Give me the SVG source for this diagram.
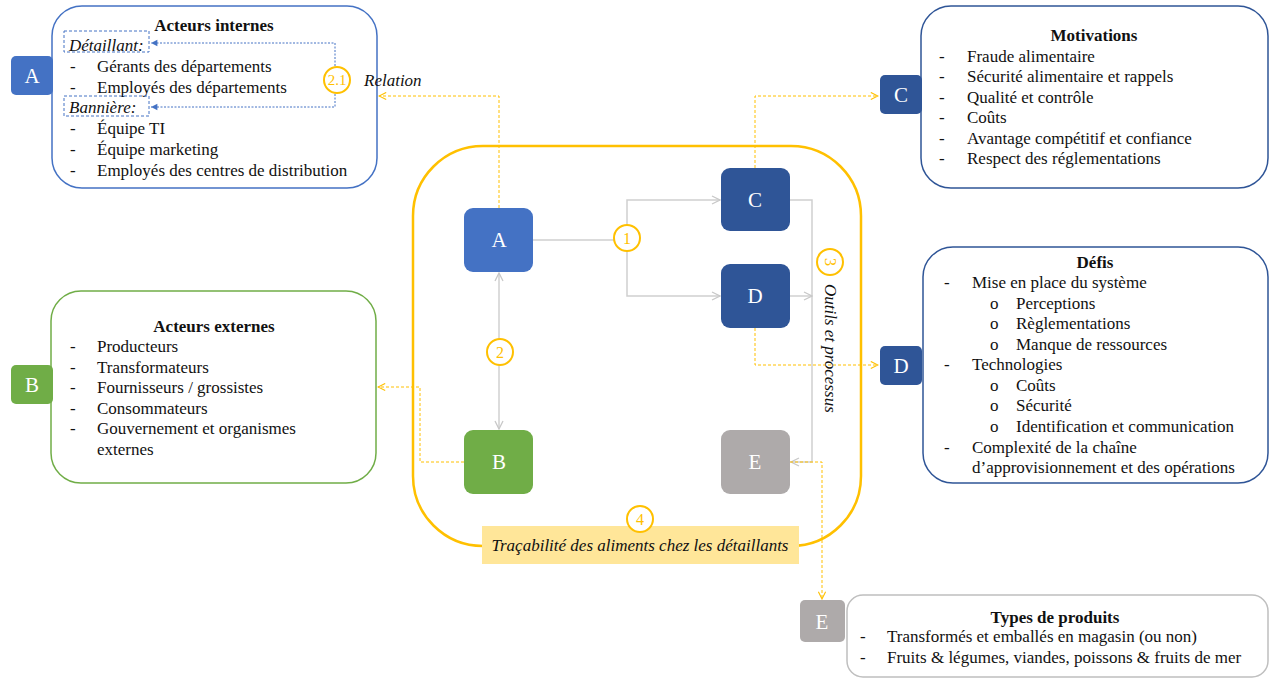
<svg xmlns="http://www.w3.org/2000/svg" width="1274" height="679" viewBox="0 0 1274 679">
<style>
text{font-family:"Liberation Serif","Times New Roman",serif;fill:#111;}
.t{font-size:17px;}
.b{font-size:17px;font-weight:bold;text-anchor:middle;}
.i{font-style:italic;}
.lt{font-size:21px;fill:#fff;text-anchor:middle;}
.num{font-size:16px;fill:#FFC000;text-anchor:middle;}
.nc{fill:#fff;stroke:#FFC000;stroke-width:2;}
.gray{fill:none;stroke:#D0D0D0;stroke-width:1.5;}
.yd{fill:none;stroke:#FFC000;stroke-width:1;stroke-dasharray:3 2;}
.bd{fill:none;stroke:#4472C4;stroke-width:1;stroke-dasharray:2 1.5;}
.bx{fill:none;stroke:#4472C4;stroke-width:1;stroke-dasharray:3 2;}
</style>
<defs>
<marker id="ag" viewBox="0 0 10 10" refX="9" refY="5" markerWidth="10" markerHeight="10" markerUnits="userSpaceOnUse" orient="auto-start-reverse"><path d="M1 1 L9 5 L1 9" fill="none" stroke="#C8C8C8" stroke-width="1.3"/></marker>
<marker id="ay" viewBox="0 0 10 10" refX="9" refY="5" markerWidth="9" markerHeight="9" markerUnits="userSpaceOnUse" orient="auto"><path d="M1 1 L9 5 L1 9" fill="none" stroke="#FFC000" stroke-width="1.2"/></marker>
<marker id="ab" viewBox="0 0 10 10" refX="9" refY="5" markerWidth="8" markerHeight="8" markerUnits="userSpaceOnUse" orient="auto"><path d="M1 1 L9 5 L1 9 Z" fill="#4472C4"/></marker>
</defs>

<!-- central frame -->
<g id="frame">
<rect x="413" y="146" width="448" height="400" rx="70" fill="#fff" stroke="#FFC000" stroke-width="2.5"/>
</g>

<!-- connectors -->
<g id="connectors">
<path class="gray" d="M533 240 H627 M627 240 V200 H720" marker-end="url(#ag)"/>
<path class="gray" d="M627 240 V296 H720" marker-end="url(#ag)"/>
<path class="gray" d="M790 200 H812 V462 H791" marker-end="url(#ag)"/>
<path class="gray" d="M790 296 H812" marker-end="url(#ag)"/>
<path class="gray" d="M499 273 V429" marker-start="url(#ag)" marker-end="url(#ag)"/>
<path class="yd" d="M499 208 V96 H379" marker-end="url(#ay)"/>
<path class="yd" d="M464 462 H420 V387 H378" marker-end="url(#ay)"/>
<path class="yd" d="M755 168 V96 H878" marker-end="url(#ay)"/>
<path class="yd" d="M755 328 V365 H878" marker-end="url(#ay)"/>
<path class="yd" d="M790 462 H822 V599" marker-end="url(#ay)"/>
</g>

<!-- badges -->
<g id="badge-1"><circle class="nc" cx="627" cy="238" r="13"/><text class="num" x="627" y="243.5">1</text></g>
<g id="badge-2"><circle class="nc" cx="500" cy="352" r="13"/><text class="num" x="500" y="357.5">2</text></g>
<g id="badge-3"><circle class="nc" cx="830" cy="262" r="13"/><text class="num" transform="translate(824.5 262) rotate(90)" x="0" y="0">3</text></g>
<text class="t i" transform="translate(825 284) rotate(90)">Outils et processus</text>

<!-- label 4 -->
<g id="label-4">
<rect x="482" y="526" width="317" height="38" fill="#FFE699"/>
<circle class="nc" cx="640" cy="519" r="13"/><text class="num" x="640" y="524.5">4</text>
<text class="t i" x="640" y="551" text-anchor="middle">Traçabilité des aliments chez les détaillants</text>
</g>

<!-- central nodes -->
<g id="node-A"><rect x="464" y="208" width="69" height="64" rx="9" fill="#4472C4"/><text class="lt" x="499" y="247">A</text></g>
<g id="node-B"><rect x="464" y="430" width="69" height="64" rx="9" fill="#70AD47"/><text class="lt" x="499" y="469">B</text></g>
<g id="node-C"><rect x="721" y="168" width="69" height="63" rx="9" fill="#2F5597"/><text class="lt" x="755" y="207">C</text></g>
<g id="node-D"><rect x="721" y="264" width="69" height="64" rx="9" fill="#2F5597"/><text class="lt" x="755" y="303">D</text></g>
<g id="node-E"><rect x="721" y="430" width="69" height="64" rx="9" fill="#AEAAAA"/><text class="lt" x="755" y="469">E</text></g>

<!-- info A -->
<g id="info-A">
<rect x="52" y="6" width="325" height="182" rx="30" fill="#fff" stroke="#4472C4" stroke-width="1.5"/>
<rect x="11" y="56" width="42" height="39" rx="5" fill="#4472C4"/><text class="lt" x="32" y="83">A</text>
<text class="b" x="214" y="31">Acteurs internes</text>
<rect x="64" y="31" width="85" height="21" class="bx"/>
<text class="t i" x="69" y="51">Détaillant:</text>
<text class="t" x="70" y="72">-</text><text class="t" x="97" y="72">Gérants des départements</text>
<text class="t" x="70" y="93">-</text><text class="t" x="97" y="93">Employés des départements</text>
<rect x="64" y="96" width="85" height="20" class="bx"/>
<text class="t i" x="69" y="113">Bannière:</text>
<text class="t" x="70" y="134">-</text><text class="t" x="97" y="134">Équipe TI</text>
<text class="t" x="70" y="155">-</text><text class="t" x="97" y="155">Équipe marketing</text>
<text class="t" x="70" y="176">-</text><text class="t" x="97" y="176">Employés des centres de distribution</text>
<path class="bd" d="M335 80 V43 H151" marker-end="url(#ab)"/>
<path class="bd" d="M335 80 V107 H151" marker-end="url(#ab)"/>
<circle class="nc" cx="337" cy="80" r="13"/><text class="num" x="337" y="85" style="font-size:15px">2.1</text>
</g>
<text class="t i" x="364" y="86">Relation</text>

<!-- info B -->
<g id="info-B">
<rect x="51" y="291" width="325" height="192" rx="30" fill="#fff" stroke="#70AD47" stroke-width="1.5"/>
<rect x="11" y="365" width="42" height="39" rx="5" fill="#70AD47"/><text class="lt" x="32" y="392">B</text>
<text class="b" x="214" y="332">Acteurs externes</text>
<text class="t" x="70" y="352">-</text><text class="t" x="97" y="352">Producteurs</text>
<text class="t" x="70" y="373">-</text><text class="t" x="97" y="373">Transformateurs</text>
<text class="t" x="70" y="393">-</text><text class="t" x="97" y="393">Fournisseurs / grossistes</text>
<text class="t" x="70" y="414">-</text><text class="t" x="97" y="414">Consommateurs</text>
<text class="t" x="70" y="434">-</text><text class="t" x="97" y="434">Gouvernement et organismes</text>
<text class="t" x="97" y="455">externes</text>
</g>

<!-- info C -->
<g id="info-C">
<rect x="921" y="6" width="347" height="182" rx="30" fill="#fff" stroke="#2F5597" stroke-width="1.5"/>
<rect x="880" y="75" width="42" height="39" rx="5" fill="#2F5597"/><text class="lt" x="901" y="102">C</text>
<text class="b" x="1094" y="41">Motivations</text>
<text class="t" x="939" y="62">-</text><text class="t" x="967" y="62">Fraude alimentaire</text>
<text class="t" x="939" y="82">-</text><text class="t" x="967" y="82">Sécurité alimentaire et rappels</text>
<text class="t" x="939" y="103">-</text><text class="t" x="967" y="103">Qualité et contrôle</text>
<text class="t" x="939" y="123">-</text><text class="t" x="967" y="123">Coûts</text>
<text class="t" x="939" y="144">-</text><text class="t" x="967" y="144">Avantage compétitif et confiance</text>
<text class="t" x="939" y="164">-</text><text class="t" x="967" y="164">Respect des réglementations</text>
</g>

<!-- info D -->
<g id="info-D">
<rect x="923" y="247" width="345" height="236" rx="30" fill="#fff" stroke="#2F5597" stroke-width="1.5"/>
<rect x="880" y="346" width="42" height="39" rx="5" fill="#2F5597"/><text class="lt" x="901" y="373">D</text>
<text class="b" x="1095" y="268">Défis</text>
<text class="t" x="944" y="288">-</text><text class="t" x="972" y="288">Mise en place du système</text>
<text class="t" x="990" y="309">o</text><text class="t" x="1016" y="309">Perceptions</text>
<text class="t" x="990" y="329">o</text><text class="t" x="1016" y="329">Règlementations</text>
<text class="t" x="990" y="350">o</text><text class="t" x="1016" y="350">Manque de ressources</text>
<text class="t" x="944" y="370">-</text><text class="t" x="972" y="370">Technologies</text>
<text class="t" x="990" y="391">o</text><text class="t" x="1016" y="391">Coûts</text>
<text class="t" x="990" y="411">o</text><text class="t" x="1016" y="411">Sécurité</text>
<text class="t" x="990" y="432">o</text><text class="t" x="1016" y="432">Identification et communication</text>
<text class="t" x="944" y="453">-</text><text class="t" x="972" y="453">Complexité de la chaîne</text>
<text class="t" x="972" y="473">d’approvisionnement  et des opérations</text>
</g>

<!-- info E -->
<g id="info-E">
<rect x="847" y="595" width="421" height="82" rx="16" fill="#fff" stroke="#BFBFBF" stroke-width="1.5"/>
<rect x="800" y="600" width="45" height="42" rx="5" fill="#AEAAAA"/><text class="lt" x="822" y="629">E</text>
<text class="b" x="1055" y="623">Types de produits</text>
<text class="t" x="860" y="642">-</text><text class="t" x="887" y="642">Transformés et emballés en magasin  (ou non)</text>
<text class="t" x="860" y="663">-</text><text class="t" x="887" y="663">Fruits &amp; légumes, viandes, poissons &amp; fruits de mer</text>
</g>
</svg>
